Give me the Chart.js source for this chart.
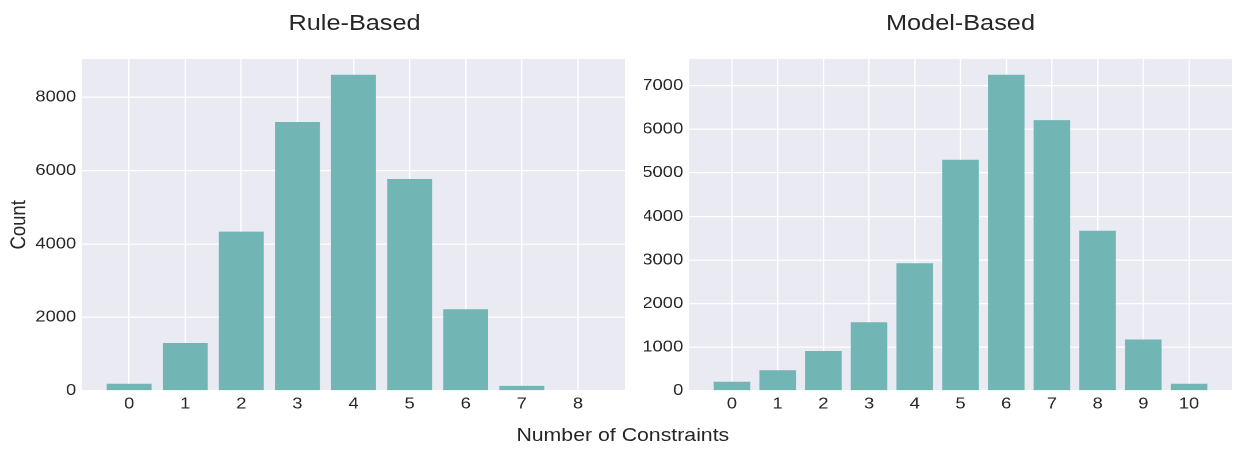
<!DOCTYPE html>
<html>
<head>
<meta charset="utf-8">
<script src="https://cdn.jsdelivr.net/npm/chart.js@4.4.1/dist/chart.umd.min.js"></script>
<style>
  html, body { margin: 0; padding: 0; background: #fff; }
  body { width: 1245px; height: 459px; overflow: hidden; }
  /* the reference is stretched horizontally, so draw narrower and stretch */
  #stage { position: absolute; left: 0; top: 0; width: 1083px; height: 459px;
           transform: scaleX(1.15); transform-origin: 0 0; }
  canvas { position: absolute; top: 0; }
  .txt { position: absolute; font-family: "Liberation Sans", Arial, sans-serif;
         color: #262626; text-align: center; white-space: nowrap; }
</style>
</head>
<body>
<div id="stage">
  <div class="txt" style="left:108.3px; width:400px; top:11.7px; font-size:22px; line-height:22px;">Rule-Based</div>
  <div class="txt" style="left:635.2px; width:400px; top:11.7px; font-size:22px; line-height:22px;">Model-Based</div>
  <div class="txt" style="left:341.6px; width:400px; top:426.2px; font-size:18.5px; line-height:18.5px;">Number of Constraints</div>
  <canvas id="rule" width="560" height="430" style="left:0; width:560px; height:430px;"></canvas>
  <canvas id="model" width="523" height="430" style="left:560px; width:523px; height:430px;"></canvas>
</div>
<script>
// data
const ruleCats = [0, 1, 2, 3, 4, 5, 6, 7, 8];
const ruleCounts = [190, 1300, 4335, 7325, 8610, 5770, 2220, 130, 15];
const ruleYTicks = [0, 2000, 4000, 6000, 8000];

const modelCats = [0, 1, 2, 3, 4, 5, 6, 7, 8, 9, 10];
const modelCounts = [205, 470, 910, 1570, 2925, 5300, 7250, 6210, 3670, 1175, 160];
const modelYTicks = [0, 1000, 2000, 3000, 4000, 5000, 6000, 7000];

const barColor = '#72b5b5';
const textColor = '#262626';

Chart.defaults.font.family = '"Liberation Sans", Arial, sans-serif';
Chart.defaults.color = textColor;

const plotBg = {
  id: 'plotBg',
  beforeDraw(chart) {
    const { ctx, chartArea: a } = chart;
    ctx.save();
    ctx.fillStyle = '#eaeaf2';
    ctx.fillRect(a.left, a.top, a.right - a.left, a.bottom - a.top);
    ctx.restore();
  }
};

function buildChart(id, cats, counts, yTicks, yAxisW, padRight, yTitle) {
  const n = cats.length;
  const span = (n - 1) + 0.8;
  const xMin = -0.4 - 0.05 * span;
  const xMax = (n - 1) + 0.4 + 0.05 * span;
  const yMax = Math.max(...counts) * 1.05;

  return new Chart(document.getElementById(id), {
    type: 'bar',
    data: {
      datasets: [{
        data: cats.map((c, i) => ({ x: c, y: counts[i] })),
        backgroundColor: barColor,
        borderWidth: 0,
        categoryPercentage: 1.0,
        barPercentage: 0.8,
      }],
    },
    options: {
      responsive: false,
      animation: false,
      devicePixelRatio: 2,
      layout: { padding: { left: 0, top: 59, right: padRight, bottom: 9.3 } },
      plugins: { legend: { display: false }, tooltip: { enabled: false } },
      scales: {
        x: {
          type: 'linear',
          min: xMin,
          max: xMax,
          offset: false,
          afterBuildTicks: (s) => { s.ticks = cats.map((v) => ({ value: v })); },
          afterFit: (s) => { s.height = 30; },
          border: { display: false },
          grid: { color: '#ffffff', lineWidth: 1.2, drawTicks: false, offset: false },
          ticks: {
            autoSkip: false, maxRotation: 0,
            padding: 4, font: { size: 16 }, color: textColor,
            callback: (v) => String(v),
          },
        },
        y: {
          min: 0,
          max: yMax,
          afterBuildTicks: (s) => { s.ticks = yTicks.map((v) => ({ value: v })); },
          afterFit: (s) => { s.width = yAxisW; },
          border: { display: false },
          grid: { color: '#ffffff', lineWidth: 1.2, drawTicks: false },
          ticks: {
            autoSkip: false, padding: 5,
            font: { size: 16 }, color: textColor,
            callback: (v) => String(v),
          },
          title: {
            display: !!yTitle, text: yTitle || '', color: textColor,
            font: { size: 18.5 }, padding: { top: 6, bottom: 0 },
          },
        },
      },
    },
    plugins: [plotBg],
  });
}

buildChart('rule', ruleCats, ruleCounts, ruleYTicks, 71.3, 16.5, 'Count');
buildChart('model', modelCats, modelCounts, modelYTicks, 39.1, 11.7, null);
</script>
</body>
</html>
